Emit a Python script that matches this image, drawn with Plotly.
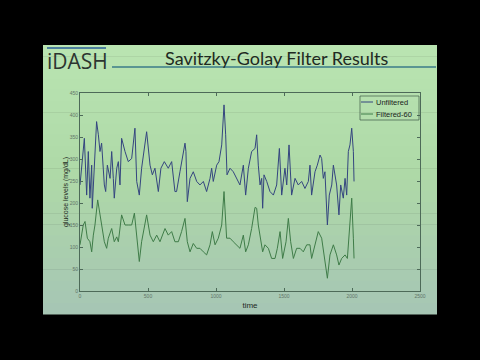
import plotly.graph_objects as go

# ---- data ----
t_unf = [0, 12, 32, 49, 61, 73, 86, 90, 105, 122, 135, 147, 159, 179, 189, 201, 221, 233, 245, 252,
         270, 282, 294, 306, 331, 355, 380, 404, 417, 436, 453, 478, 490, 515, 532, 551, 576, 595,
         620, 649, 674, 698, 710, 735, 752, 772, 779, 789, 809, 833, 858, 882, 907, 931, 956, 968,
         980, 1005, 1022, 1042, 1059, 1071, 1081, 1103, 1127, 1152, 1176, 1201, 1218, 1238, 1262,
         1287, 1299, 1311, 1324, 1336, 1343, 1353, 1373, 1397, 1422, 1446, 1466, 1483, 1507, 1520,
         1537, 1556, 1581, 1605, 1630, 1654, 1679, 1691, 1703, 1728, 1745, 1765, 1777, 1789, 1801,
         1819, 1833, 1851, 1863, 1887, 1904, 1917, 1936, 1949, 1961, 1973, 1985, 1998, 2010, 2015]
g_unf = [241, 286, 347, 218, 317, 211, 286, 188, 279, 385, 355, 317, 336, 241, 226, 286, 256, 317, 256, 211,
         279, 294, 241, 347, 317, 294, 301, 370, 249, 218, 279, 339, 362, 286, 264, 279, 226, 279,
         294, 279, 294, 226, 226, 271, 301, 336, 317, 203, 256, 271, 249, 241, 249, 226, 256, 279,
         249, 286, 294, 332, 423, 355, 264, 279, 271, 256, 241, 286, 218, 279, 317,
         324, 355, 286, 241, 256, 188, 264, 249, 226, 218, 241, 324, 218, 279, 241,
         332, 218, 256, 241, 249, 233, 249, 286, 218, 271, 286, 309, 301, 256, 271,
         150, 218, 241, 286, 241, 173, 241, 211, 256, 218, 317, 332, 370, 317, 249]

t_fil = [0, 24, 37, 54, 73, 86, 98, 110, 130, 147, 159, 179, 196, 208, 233, 252, 270, 282, 306, 331,
         355, 380, 400, 417, 436, 453, 478, 490, 515, 539, 564, 588, 625, 649, 674, 698, 723, 747,
         772, 789, 809, 833, 858, 882, 907, 931, 956, 973, 993, 1017, 1042, 1059, 1078, 1103, 1127,
         1152, 1176, 1201, 1218, 1238, 1262, 1287, 1299, 1311, 1328, 1343, 1360, 1385, 1409, 1434,
         1451, 1471, 1490, 1515, 1532, 1549, 1569, 1593, 1618, 1642, 1667, 1691, 1703, 1728, 1752,
         1777, 1801, 1819, 1838, 1863, 1887, 1904, 1924, 1949, 1966, 1985, 1998, 2010, 2015]
g_fil = [105, 150, 158, 120, 112, 89, 127, 150, 207, 173, 142, 112, 97, 120, 142, 112, 123, 112, 173, 150,
         150, 150, 177, 120, 67, 112, 158, 173, 127, 112, 127, 112, 142, 127, 135, 112, 112, 135,
         165, 112, 89, 108, 97, 97, 89, 82, 105, 135, 105, 120, 150, 226, 120, 120, 112,
         105, 97, 127, 89, 105, 142, 190, 188, 150, 120, 89, 105, 97, 74, 74,
         97, 135, 74, 112, 165, 112, 74, 97, 97, 89, 105, 105, 74, 105, 135,
         120, 67, 29, 82, 105, 82, 59, 74, 82, 74, 165, 211, 120, 74]

x_ticks = [0, 500, 1000, 1500, 2000, 2500]
y_ticks = [0, 50, 100, 150, 200, 250, 300, 350, 400, 450]
series_names = ["Unfiltered", "Filtered-60"]
series_colors = ["#34457f", "#3f7c48"]

fig = go.Figure()
fig.add_trace(go.Scatter(x=t_unf, y=g_unf, mode="lines", name=series_names[0],
                         line=dict(color=series_colors[0], width=1)))
fig.add_trace(go.Scatter(x=t_fil, y=g_fil, mode="lines", name=series_names[1],
                         line=dict(color=series_colors[1], width=1)))

W, H = 480, 360
L, R, T, B = 43, 437, 45, 314


def px(xp):
    return (xp - 80) / 340


def py(yp):
    return (291 - yp) / 198


def hexmix(c1, c2, f):
    a = [int(c1[i:i + 2], 16) for i in (1, 3, 5)]
    b = [int(c2[i:i + 2], 16) for i in (1, 3, 5)]
    return "#%02x%02x%02x" % tuple(round(a[k] + (b[k] - a[k]) * f) for k in range(3))


shapes = []
n = 24
for i in range(n):
    y0 = T + (B - T) * i / n
    y1 = T + (B - T) * (i + 1) / n + 0.5
    f = i / (n - 1)
    if f < 0.5:
        col = hexmix("#b9e4b1", "#aed8a7", f * 2)
    else:
        col = hexmix("#aed8a7", "#a6c6b4", (f - 0.5) * 2)
    shapes.append(dict(type="rect", xref="paper", yref="paper", layer="below",
                       x0=px(L), x1=px(R), y0=py(y1), y1=py(y0),
                       fillcolor=col, line=dict(width=0)))
# title underline and logo bar
shapes.append(dict(type="line", xref="paper", yref="paper",
                   x0=px(112), x1=px(436), y0=py(67), y1=py(67),
                   line=dict(color="#3b7b88", width=1.5)))
shapes.append(dict(type="line", xref="paper", yref="paper",
                   x0=px(47), x1=px(106), y0=py(48), y1=py(48),
                   line=dict(color="#4c7f9c", width=2)))

annotations = [
    dict(text="Savitzky-Golay Filter Results", x=px(277), y=py(58), xref="paper", yref="paper",
         xanchor="center", yanchor="middle",
         showarrow=False, font=dict(family="Lato", size=18, color="#1e2a22")),
    dict(text="iDASH", x=px(45), y=py(61), xref="paper", yref="paper",
         xanchor="left", yanchor="middle",
         showarrow=False, font=dict(family="Open Sans", size=21, color="#2c3530")),
]

# compact legend box (MATLAB style)
leg_x0, leg_x1, leg_y0, leg_y1 = 360, 419, 96, 120
shapes.append(dict(type="rect", xref="paper", yref="paper",
                   x0=px(leg_x0), x1=px(leg_x1), y0=py(leg_y1), y1=py(leg_y0),
                   line=dict(color="#3d5a45", width=0.7), fillcolor="rgba(0,0,0,0)"))
for k, name in enumerate(series_names):
    yy = 102 + 12 * k
    shapes.append(dict(type="line", xref="paper", yref="paper",
                       x0=px(361), x1=px(373), y0=py(yy), y1=py(yy),
                       line=dict(color=series_colors[k], width=1)))
    annotations.append(dict(text=name, x=px(373.5), y=py(yy), xref="paper", yref="paper",
                            xanchor="left", yanchor="middle", showarrow=False,
                            font=dict(family="Liberation Sans", size=7.5, color="#1a2420")))

fig.update_layout(
    width=W, height=H,
    margin=dict(l=80, r=60, t=93, b=69),
    paper_bgcolor="#000000",
    plot_bgcolor="rgba(0,0,0,0)",
    shapes=shapes,
    annotations=annotations,
    showlegend=False,
    xaxis=dict(range=[0, 2500], tickvals=x_ticks, ticktext=[str(v) for v in x_ticks],
               showgrid=False, zeroline=False, showline=True, linecolor="#4d6a58", linewidth=1,
               mirror="ticks", ticks="inside", ticklen=3, tickcolor="#4d6a58",
               tickfont=dict(size=5, color="#5f7468", family="Liberation Sans"),
               title=dict(text="time", standoff=4,
                          font=dict(size=8, color="#1e2a22", family="Liberation Sans"))),
    yaxis=dict(range=[0, 450], tickvals=y_ticks, ticktext=[str(v) for v in y_ticks],
               showgrid=False, zeroline=False, showline=True, linecolor="#4d6a58", linewidth=1,
               mirror="ticks", ticks="inside", ticklen=3, tickcolor="#4d6a58",
               tickfont=dict(size=5, color="#5f7468", family="Liberation Sans"),
               title=dict(text="glucose levels (mg/dL)", standoff=0,
                          font=dict(size=7, color="#1e2a22", family="Liberation Sans"))),
)

fig.write_html("out.html")
